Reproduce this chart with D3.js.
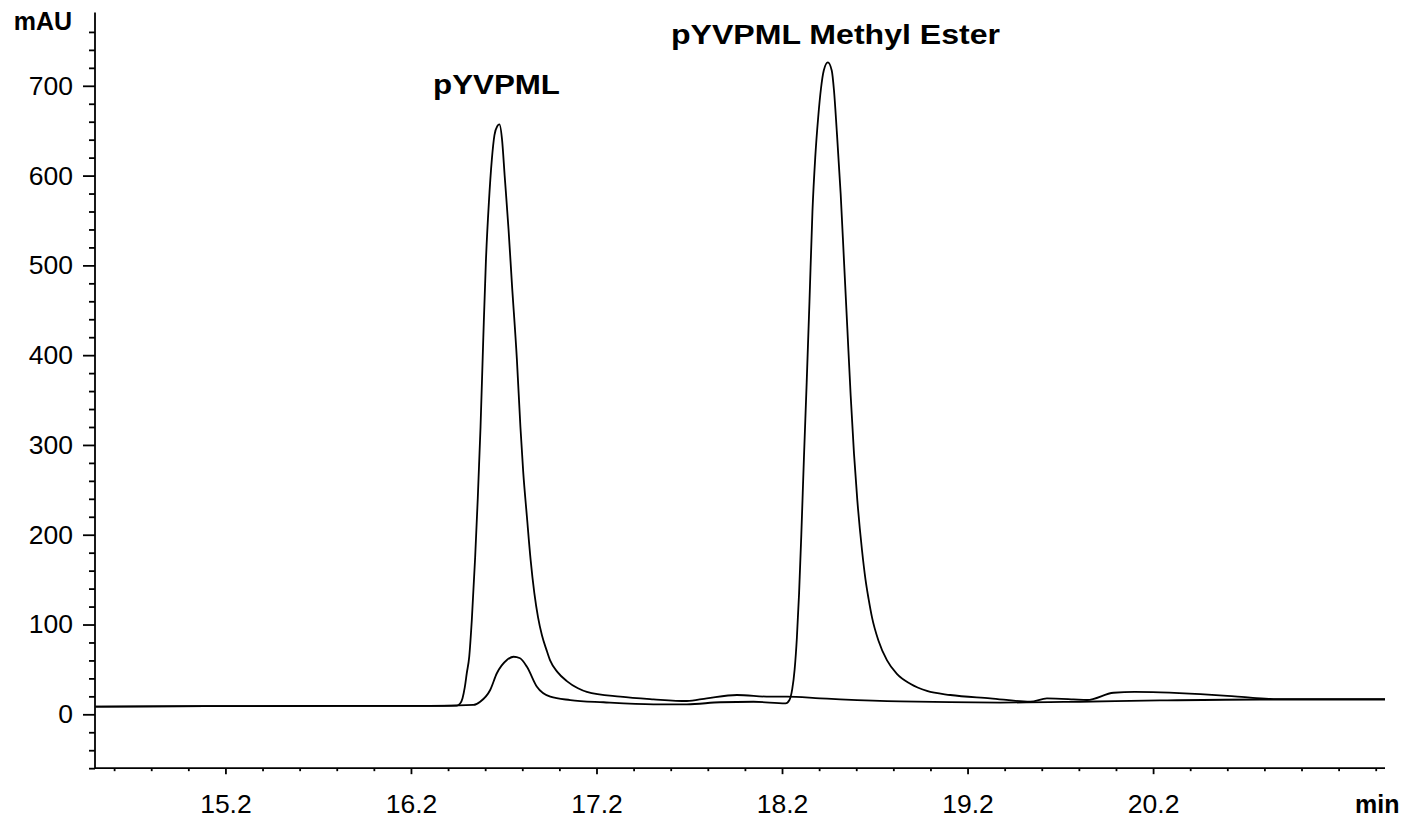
<!DOCTYPE html>
<html>
<head>
<meta charset="utf-8">
<script src="https://cdn.jsdelivr.net/npm/d3@7"></script>
<style>
  html, body { margin: 0; padding: 0; background: #fff; }
  svg { display: block; font-family: "Liberation Sans", Arial, sans-serif; }
</style>
</head>
<body>
<svg id="chart" width="1405" height="818"></svg>
<script>
// ---- data (time in min, absorbance in mAU) ----
const traceAcidTime = [14.50, 15.10, 15.80, 16.30, 16.448, 16.465, 16.478, 16.490, 16.501, 16.514, 16.528, 16.546, 16.560, 16.575, 16.590, 16.604, 16.620, 16.636, 16.650, 16.665, 16.677, 16.691, 16.705, 16.726, 16.744, 16.771, 16.790, 16.805, 16.825, 16.845, 16.865, 16.885, 16.906, 16.930, 16.950, 16.990, 17.040, 17.100, 17.148, 17.328, 17.507, 17.687, 17.795, 17.957, 18.136, 18.226, 18.405, 18.513, 18.836, 19.375, 19.806, 20.237, 20.776, 21.45];
const traceAcidValue = [8.5, 9.0, 9.3, 9.3, 9.7, 12, 18, 30, 46, 64, 105, 175, 240, 320, 420, 505, 570, 618, 645, 655, 657, 640, 600, 540, 480, 395, 320, 270, 220, 172, 135, 108, 88, 72, 60, 47, 37, 29, 25, 19.6, 16.7, 14.8, 17.8, 21.5, 19.6, 19.6, 17.8, 16.7, 14.3, 13.1, 14.0, 15.4, 16.5, 16.5];

const traceEsterTime = [14.50, 15.10, 15.80, 16.30, 16.537, 16.573, 16.627, 16.663, 16.717, 16.753, 16.788, 16.825, 16.879, 16.951, 17.059, 17.238, 17.507, 17.687, 17.867, 18.046, 18.219, 18.240, 18.255, 18.268, 18.280, 18.292, 18.304, 18.318, 18.333, 18.348, 18.364, 18.379, 18.395, 18.410, 18.425, 18.447, 18.468, 18.480, 18.495, 18.516, 18.534, 18.552, 18.570, 18.588, 18.606, 18.631, 18.650, 18.667, 18.685, 18.720, 18.766, 18.819, 18.891, 18.981, 19.107, 19.322, 19.538, 19.628, 19.771, 19.844, 19.987, 20.100, 20.239, 20.455, 20.600, 20.724, 20.850, 21.45];
const traceEsterValue = [8.5, 9.0, 9.3, 9.3, 10.4, 14.0, 27.1, 45.7, 60.5, 64.1, 62.4, 53, 30.7, 19.6, 15.9, 13.4, 11.1, 11.1, 13.4, 14.0, 12.2, 16, 28, 50, 85, 135, 200, 285, 370, 460, 560, 620, 665, 697, 717, 726, 717, 695, 650, 580, 505, 430, 355, 290, 238, 183, 150, 128, 108, 82, 60, 45, 34, 26, 21.5, 17.8, 14.0, 17.8, 16.7, 15.9, 24.0, 25.0, 24.5, 22.5, 20.5, 18.5, 17, 17];

const xMajorTicks = [15.2, 16.2, 17.2, 18.2, 19.2, 20.2];
const xMinorTicks = d3.range(73, 108).map(i => +(i * 0.2).toFixed(1));
const yMajorTicks = [0, 100, 200, 300, 400, 500, 600, 700];
const yMinorTicks = d3.range(-60, 761, 20).filter(v => v % 100 !== 0);

const peakLabels = ["pYVPML", "pYVPML Methyl Ester"];
const axisTitles = { y: "mAU", x: "min" };

// ---- scales ----
const svg = d3.select("#chart");
const x = d3.scaleLinear().domain([14.497, 21.45]).range([95, 1385]);
const y = d3.scaleLinear().domain([0, 700]).range([714.3, 85.8]);
const yBottom = -60, yTop = 781.5;

const fontSize = 26.5;

// ---- y axis ----
const gy = svg.append("g").attr("transform", `translate(${x.range()[0]},0)`);
gy.call(d3.axisLeft(y).tickValues(yMajorTicks).tickSize(12).tickPadding(10).tickFormat(d3.format("d")));
gy.select(".domain").remove();
gy.append("g").call(d3.axisLeft(y).tickValues(yMinorTicks).tickSize(6).tickFormat(""))
  .select(".domain").remove();
gy.append("line").attr("x1", 0).attr("x2", 0).attr("y1", y(yBottom)).attr("y2", y(yTop));
gy.selectAll("line").attr("stroke", "#000").attr("stroke-width", 1.8);
gy.selectAll("text").attr("font-size", fontSize).attr("fill", "#000")
  .attr("font-family", '"Liberation Sans", Arial, sans-serif');

// ---- x axis ----
const gx = svg.append("g").attr("transform", `translate(0,${y(yBottom)})`);
gx.call(d3.axisBottom(x).tickValues(xMajorTicks).tickSize(6).tickPadding(20).tickFormat(d3.format(".1f")));
gx.select(".domain").remove();
gx.append("g").call(d3.axisBottom(x).tickValues(xMinorTicks.filter(v => !xMajorTicks.includes(v))).tickSize(3).tickFormat(""))
  .select(".domain").remove();
gx.append("line").attr("x1", x.range()[0]).attr("x2", x.range()[1]).attr("y1", 0).attr("y2", 0);
gx.selectAll("line").attr("stroke", "#000").attr("stroke-width", 1.8);
gx.selectAll("text").attr("font-size", fontSize).attr("fill", "#000")
  .attr("font-family", '"Liberation Sans", Arial, sans-serif');

// ---- traces ----
const line = d3.line().x(d => x(d[0])).y(d => y(d[1])).curve(d3.curveMonotoneX);
const traces = [
  d3.zip(traceAcidTime, traceAcidValue),
  d3.zip(traceEsterTime, traceEsterValue)
];
svg.append("g").selectAll("path").data(traces).join("path")
  .attr("d", line)
  .attr("fill", "none")
  .attr("stroke", "#000")
  .attr("stroke-width", 1.8)
  .attr("stroke-linejoin", "round");

// ---- axis titles ----
svg.append("text").attr("x", 72).attr("y", 30).attr("text-anchor", "end")
  .attr("font-size", 25).attr("font-weight", "bold").text(axisTitles.y);
svg.append("text").attr("x", 1355).attr("y", 813)
  .attr("font-size", 25).attr("font-weight", "bold").text(axisTitles.x);

// ---- peak labels ----
svg.append("text").attr("x", 433).attr("y", 94)
  .attr("font-size", 27).attr("font-weight", "bold")
  .attr("textLength", 127).attr("lengthAdjust", "spacingAndGlyphs")
  .text(peakLabels[0]);
svg.append("text").attr("x", 671).attr("y", 43.5)
  .attr("font-size", 27).attr("font-weight", "bold")
  .attr("textLength", 329).attr("lengthAdjust", "spacingAndGlyphs")
  .text(peakLabels[1]);
</script>
</body>
</html>
